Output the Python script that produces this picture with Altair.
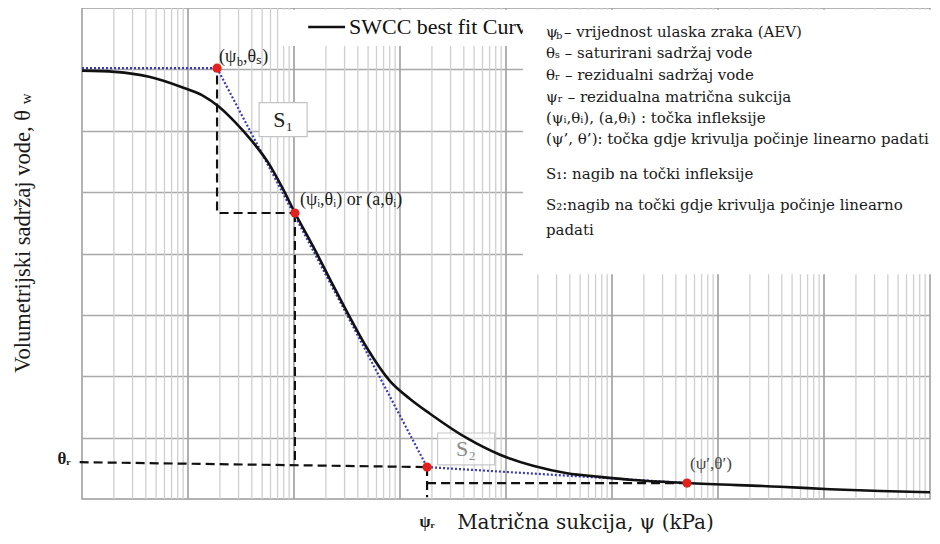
import altair as alt
import pandas as pd

SERIF = "Liberation Serif"
WIDE_SERIF = "DejaVu Serif"
INK = "#1a1a1a"

# ---------------- data ----------------
# SWCC best fit curve: matric suction psi (kPa, log axis) vs volumetric water content theta_w
psi_curve = [0.0100, 0.0205, 0.0429, 0.0878, 0.1355, 0.196, 0.278, 0.402, 0.581, 0.771,
             1.022, 1.511, 2.186, 3.162, 4.884, 8.049, 12.43, 19.19, 42.87, 87.77,
             179.8, 376.3, 770.3, 1578, 5100, 38440, 113900, 337600, 1000000]
theta_curve = [0.698, 0.696, 0.688, 0.671, 0.658, 0.639, 0.614, 0.583, 0.546, 0.508,
               0.466, 0.412, 0.358, 0.305, 0.246, 0.192, 0.163, 0.139, 0.099, 0.072,
               0.054, 0.042, 0.036, 0.031, 0.026, 0.020, 0.016, 0.013, 0.011]

# characteristic points: (psi_b, theta_s), (psi_i, theta_i), (psi_r, theta_r), (psi', theta')
point_psi = [0.188, 1.02, 18.0, 5100]
point_theta = [0.702, 0.466, 0.052, 0.026]

# black dashed construction lines
dash_seg = [1, 1, 1, 2, 2, 3, 3, 4, 4, 5, 5]
dash_psi = [0.188, 0.188, 1.02, 1.02, 1.02, 0.0095, 18.0, 18.0, 18.0, 18.0, 5100]
dash_theta = [0.690, 0.466, 0.466, 0.466, 0.055, 0.060, 0.052, 0.052, 0.003, 0.026, 0.026]

# blue dotted tangent / slope lines
dot_seg = [1, 1, 2, 2, 3, 3]
dot_psi = [0.01, 0.188, 0.188, 18.0, 18.0, 5100]
dot_theta = [0.702, 0.702, 0.702, 0.052, 0.052, 0.026]

# grid
grid_theta = [0.1, 0.2, 0.3, 0.4, 0.5, 0.6, 0.7]
decade_psi = [0.01, 0.1, 1, 10, 100, 1000, 10000, 100000, 1000000]
minor_psi = [m * d for d in decade_psi[:-1] for m in range(2, 10)]

legend_lines = [
    "– vrijednost ulaska zraka (AEV)",
    "θₛ – saturirani sadržaj vode",
    "θᵣ – rezidualni sadržaj vode",
    "ψᵣ – rezidualna matrična sukcija",
    "(ψᵢ,θᵢ), (a,θᵢ) : točka infleksije",
    "(ψ’, θ’): točka gdje krivulja počinje linearno padati",
    "S₁: nagib na točki infleksije",
    "S₂:nagib na točki gdje krivulja počinje linearno",
    "padati",
]
legend_dy = [0, 21, 43, 65, 86, 107, 142, 173, 198]

# ---------------- encodings ----------------
xscale = alt.Scale(type="log", domain=[0.01, 1000000], nice=False)
yscale = alt.Scale(domain=[0, 0.8], nice=False, zero=False)
xaxis = alt.Axis(title="Matrična sukcija, ψ (kPa)", titleFont=WIDE_SERIF, titleFontSize=20,
                 titleFontWeight="normal", titleColor=INK, titleX=503, titleY=23,
                 titleBaseline="middle", titleAlign="center",
                 labels=False, ticks=False, domain=False, grid=False)
yaxis = alt.Axis(title="Volumetrijski sadržaj vode, θ", titleFont=SERIF, titleFontSize=22.5,
                 titleFontWeight="normal", titleColor=INK, titleX=-60, titleY=233,
                 titleBaseline="middle", titleAlign="center",
                 values=grid_theta, grid=True, gridColor="#a9a9a9", gridWidth=1.6,
                 labels=False, ticks=False, domain=False)
X = alt.X("psi:Q", scale=xscale, axis=xaxis)
Y = alt.Y("theta:Q", scale=yscale, axis=yaxis)


def text(psi, theta, label, dx=0, dy=0, size=16, color=INK, align="left",
         weight="normal", angle=0, font=SERIF):
    df = pd.DataFrame({"psi": [psi], "theta": [theta], "label": [label]})
    return alt.Chart(df).mark_text(
        align=align, baseline="middle", dx=dx, dy=dy, fontSize=size, font=font,
        color=color, fontWeight=weight, angle=angle
    ).encode(x=X, y=Y, text="label:N")


def rect(psi, psi2, theta, theta2, fill="white"):
    df = pd.DataFrame({"psi": [psi], "psi2": [psi2], "theta": [theta], "theta2": [theta2]})
    return alt.Chart(df).mark_rect(fill=fill, opacity=1).encode(
        x=X, x2="psi2:Q", y=Y, y2="theta2:Q")


def box(psi, theta, w, h, fill_opacity=1.0, stroke="#c4c4c4"):
    r = h / w
    shape = f"M-1,-{r:.3f}L1,-{r:.3f}L1,{r:.3f}L-1,{r:.3f}Z"
    df = pd.DataFrame({"psi": [psi], "theta": [theta]})
    return alt.Chart(df).mark_point(
        shape=shape, size=w * w, filled=True, fill="white", fillOpacity=fill_opacity,
        stroke=stroke, strokeWidth=1.2, opacity=1
    ).encode(x=X, y=Y)


layers = []

# vertical grid
layers.append(alt.Chart(pd.DataFrame({"psi": minor_psi})).mark_rule(
    color="#cfcfcf", strokeWidth=1.3).encode(x=X))
layers.append(alt.Chart(pd.DataFrame({"psi": decade_psi[1:-1]})).mark_rule(
    color="#a3a3a3", strokeWidth=1.7).encode(x=X))

# "SWCC best fit Curve" legend
layers.append(rect(0.74, 141, 0.797, 0.738))
layers.append(alt.Chart(pd.DataFrame({"psi": [1.36, 3.03], "theta": [0.769, 0.769]}))
              .mark_line(color="#111", strokeWidth=2.4).encode(x=X, y=Y))
layers.append(text(3.3, 0.769, "SWCC best fit Curve", size=22, color="#111"))

# right-hand explanation box
LF = 15
layers.append(rect(144.5, 1.4e6, 0.797, 0.366))
LX, LY = 238, 0.761
layers.append(text(LX, LY, "ψ", dy=legend_dy[0], size=LF, font=WIDE_SERIF))
layers.append(text(LX, LY, "b", dx=10, dy=legend_dy[0] + 4, size=10, font=WIDE_SERIF))
layers.append(text(LX, LY, legend_lines[0], dx=18, dy=legend_dy[0], size=LF, font=WIDE_SERIF))
for line, dy in zip(legend_lines[1:], legend_dy[1:]):
    layers.append(text(LX, LY, line, dy=dy, size=LF, font=WIDE_SERIF))

# construction lines
layers.append(alt.Chart(pd.DataFrame({"seg": dash_seg, "i": list(range(len(dash_seg))),
                                      "psi": dash_psi, "theta": dash_theta}))
              .mark_line(color="#111", strokeWidth=2.2, strokeDash=[9, 5])
              .encode(x=X, y=Y, detail="seg:N", order="i:Q"))
layers.append(alt.Chart(pd.DataFrame({"seg": dot_seg, "i": list(range(len(dot_seg))),
                                      "psi": dot_psi, "theta": dot_theta}))
              .mark_line(color="#3b3bb0", strokeWidth=2.2, strokeDash=[2, 2])
              .encode(x=X, y=Y, detail="seg:N", order="i:Q"))

# slope boxes
layers.append(box(0.79, 0.618, 48, 34))
layers.append(text(0.79, 0.618, "S₁", size=22, align="center", color="#222"))
layers.append(box(42, 0.0815, 57, 32, fill_opacity=0.55, stroke="#c8c8c8"))
layers.append(text(42, 0.0815, "S₂", size=22, align="center", color="#8a8a8a"))

# SWCC curve
layers.append(alt.Chart(pd.DataFrame({"psi": psi_curve, "theta": theta_curve}))
              .mark_line(color="#111", strokeWidth=2.6, interpolate="monotone")
              .encode(x=X, y=Y))

# characteristic points
layers.append(alt.Chart(pd.DataFrame({"psi": point_psi, "theta": point_theta}))
              .mark_circle(color="#e3201b", size=85, opacity=1).encode(x=X, y=Y))

# point labels
pb, ts = point_psi[0], point_theta[0]
layers.append(text(pb, ts, "(ψ", dx=2, dy=-11, size=18))
layers.append(text(pb, ts, "b", dx=20, dy=-6, size=12))
layers.append(text(pb, ts, ",θₛ)", dx=26, dy=-11, size=18))
layers.append(text(point_psi[1], point_theta[1], "(ψᵢ,θᵢ) or (a,θᵢ)", dx=5, dy=-13, size=18))
layers.append(text(point_psi[3], point_theta[3], "(ψ′,θ′)", dx=3, dy=-19, size=17, color="#444"))
layers.append(text(0.0095, 0.060, "θᵣ", dx=-9, dy=-3, size=17, align="right", weight="bold"))
layers.append(text(point_psi[2], 0.0, "ψᵣ", dy=23, size=16, align="center", weight="bold"))

# subscript w of the y-axis title
layers.append(text(0.00296, 0.652, "w", size=15, angle=270, align="center"))

chart = alt.layer(*layers).properties(
    width=848, height=491,
    autosize=alt.AutoSizeParams(type="none"),
    padding={"left": 74, "top": 0, "right": 2, "bottom": 37},
).configure_view(stroke="#9b9b9b", strokeWidth=1.5)

chart.save("out.html", embed_options={"renderer": "svg", "actions": False})
